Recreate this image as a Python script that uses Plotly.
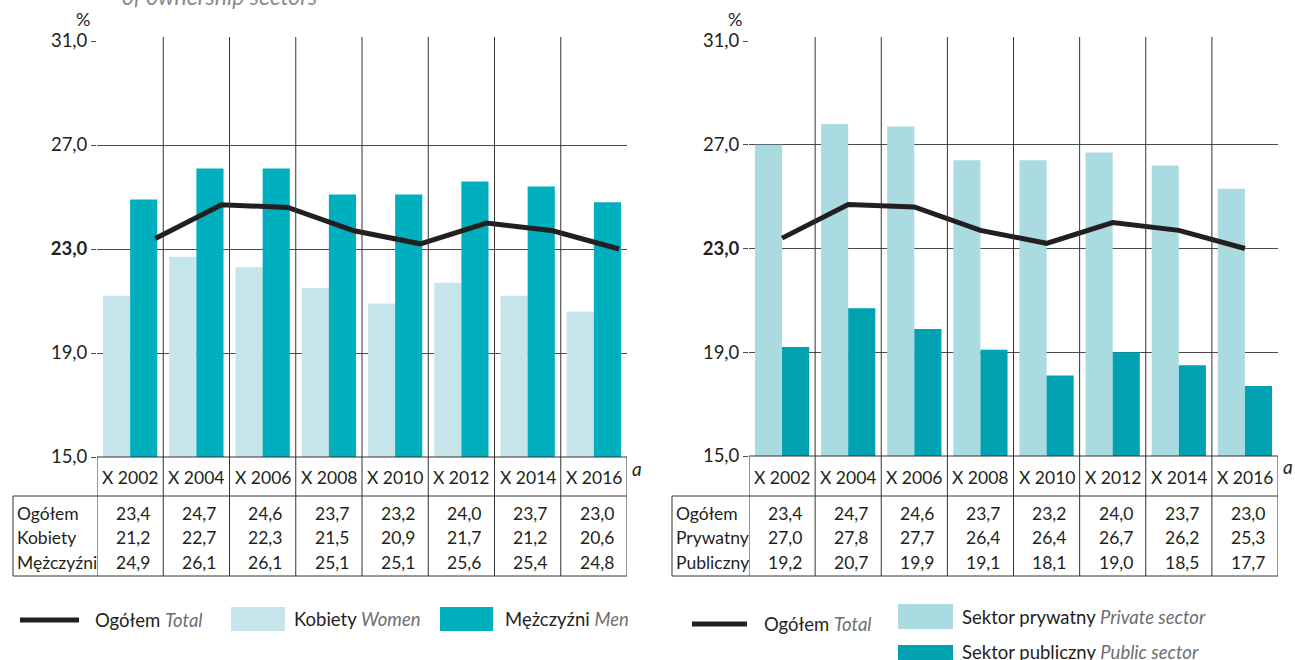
import plotly.graph_objects as go

W, H = 1295, 660
FONT = "Lato"
INK = "#231f20"
GREY = "#6d6e71"

# ---- data -------------------------------------------------------------
periods = ["X 2002", "X 2004", "X 2006", "X 2008", "X 2010", "X 2012", "X 2014", "X 2016"]
total = [23.4, 24.7, 24.6, 23.7, 23.2, 24.0, 23.7, 23.0]
women = [21.2, 22.7, 22.3, 21.5, 20.9, 21.7, 21.2, 20.6]
men = [24.9, 26.1, 26.1, 25.1, 25.1, 25.6, 25.4, 24.8]
private_sector = [27.0, 27.8, 27.7, 26.4, 26.4, 26.7, 26.2, 25.3]
public_sector = [19.2, 20.7, 19.9, 19.1, 18.1, 19.0, 18.5, 17.7]
y_ticks = [15.0, 19.0, 23.0, 27.0, 31.0]

left_rows = [("Ogółem", total), ("Kobiety", women), ("Mężczyźni", men)]
right_rows = [("Ogółem", total), ("Prywatny", private_sector), ("Publiczny", public_sector)]

# ---- helpers ----------------------------------------------------------
def px(x):
    return x / W


def py(y):
    return 1 - y / H


def pl(v):
    return f"{v:.1f}".replace(".", ",")


idx = list(range(len(periods)))
tick_text = [f"<b>{pl(v)}</b>" if v == 23.0 else pl(v) for v in y_ticks]

C_WOMEN = "#c5e5ea"
C_MEN = "#00afbe"
C_PRIV = "#aadbe1"
C_PUB = "#00a1b0"

fig = go.Figure()

BW = 0.41
# left panel: women / men bars and total line
fig.add_trace(go.Bar(x=idx, y=women, width=BW, offset=-BW, marker=dict(color=C_WOMEN, line_width=0),
                     xaxis="x", yaxis="y", showlegend=False))
fig.add_trace(go.Bar(x=idx, y=men, width=BW, offset=0, marker=dict(color=C_MEN, line_width=0),
                     xaxis="x", yaxis="y", showlegend=False))
fig.add_trace(go.Scatter(x=[i + 0.38 for i in idx], y=total, mode="lines",
                         line=dict(color=INK, width=5), xaxis="x", yaxis="y", showlegend=False))

# right panel: private / public bars and total line
fig.add_trace(go.Bar(x=idx, y=private_sector, width=BW, offset=-BW, marker=dict(color=C_PRIV, line_width=0),
                     xaxis="x2", yaxis="y2", showlegend=False))
fig.add_trace(go.Bar(x=idx, y=public_sector, width=BW, offset=0, marker=dict(color=C_PUB, line_width=0),
                     xaxis="x2", yaxis="y2", showlegend=False))
fig.add_trace(go.Scatter(x=idx, y=total, mode="lines",
                         line=dict(color=INK, width=5), xaxis="x2", yaxis="y2", showlegend=False))

xa = dict(range=[-0.5, 7.5], showgrid=False, zeroline=False, showticklabels=False,
          showline=False, ticks="", fixedrange=True, automargin=False)
ya = dict(range=[15, 31], tickvals=y_ticks, ticktext=tick_text, showgrid=True,
          gridcolor="#4a4a4a", gridwidth=1, zeroline=False, showline=False,
          ticks="outside", ticklen=5, tickcolor="#4a4a4a",
          tickfont=dict(family=FONT, size=18.5, color=INK), fixedrange=True, automargin=False)

panels = {
    "left": dict(x0=97, x1=627, ytop=41, ybot=457, tab_left=13, xref="x"),
    "right": dict(x0=749, x1=1278, ytop=41, ybot=456, tab_left=672, xref="x2"),
}

fig.update_layout(
    template="none",
    autosize=False,
    width=W, height=H,
    margin=dict(l=0, r=0, t=0, b=0, pad=0, autoexpand=False),
    paper_bgcolor="white", plot_bgcolor="rgba(0,0,0,0)",
    barmode="overlay",
    xaxis=dict(domain=[px(97), px(627)], anchor="y", **xa),
    yaxis=dict(domain=[py(457), py(41)], anchor="x", **ya),
    xaxis2=dict(domain=[px(749), px(1278)], anchor="y2", **xa),
    yaxis2=dict(domain=[py(456), py(41)], anchor="x2", **ya),
    font=dict(family=FONT, color=INK),
)

shapes = []
ann = []

SEP = "#333333"
HEADER_BOTTOM = 496
TABLE_BOTTOM = 576

for name, rows in (("left", left_rows), ("right", right_rows)):
    p = panels[name]
    xr = p["xref"]
    # column separators through plot and table
    for i in idx[:-1]:
        shapes.append(dict(type="line", xref=xr, yref="paper", x0=i + 0.5, x1=i + 0.5,
                           y0=py(TABLE_BOTTOM), y1=py(p["ytop"] - 4), line=dict(color=SEP, width=1)))
    # outer edges of header + data
    for xv in (-0.5, 7.5):
        shapes.append(dict(type="line", xref=xr, yref="paper", x0=xv, x1=xv,
                           y0=py(TABLE_BOTTOM), y1=py(p["ybot"]), line=dict(color=SEP, width=1)))
    # header top
    shapes.append(dict(type="line", xref="paper", yref="paper", x0=px(p["x0"]), x1=px(p["x1"]),
                       y0=py(p["ybot"]), y1=py(p["ybot"]), line=dict(color=SEP, width=1)))
    # data box
    for yv in (HEADER_BOTTOM, TABLE_BOTTOM):
        shapes.append(dict(type="line", xref="paper", yref="paper", x0=px(p["tab_left"]), x1=px(p["x1"]),
                           y0=py(yv), y1=py(yv), line=dict(color=SEP, width=1)))
    shapes.append(dict(type="line", xref="paper", yref="paper", x0=px(p["tab_left"]), x1=px(p["tab_left"]),
                       y0=py(TABLE_BOTTOM), y1=py(HEADER_BOTTOM), line=dict(color=SEP, width=1)))

    # header labels
    for i, lab in zip(idx, periods):
        ann.append(dict(x=i, y=py(477), xref=xr, yref="paper", text=lab, showarrow=False,
                        xanchor="center", yanchor="middle", font=dict(family=FONT, size=17.5, color=INK)))
    # data rows
    for r, (row_name, vals) in enumerate(rows):
        yy = py(513 + 24.5 * r)
        ann.append(dict(x=px(p["tab_left"] + 2), y=yy, xref="paper", yref="paper", text=row_name,
                        showarrow=False, xanchor="left", yanchor="middle",
                        font=dict(family=FONT, size=17.5, color=INK)))
        for i, v in zip(idx, vals):
            ann.append(dict(x=i + 0.33, y=yy, xref=xr, yref="paper", text=pl(v), showarrow=False,
                            xanchor="right", yanchor="middle", font=dict(family=FONT, size=17.5, color=INK)))
    # "%" unit label
    ann.append(dict(x=px(p["x0"] - 14), y=py(19), xref="paper", yref="paper", text="%", showarrow=False,
                    xanchor="center", yanchor="middle", font=dict(family=FONT, size=18, color=INK)))

# footnote marks
ann.append(dict(x=px(637), y=py(468), xref="paper", yref="paper", text="<i>a</i>", showarrow=False,
                xanchor="center", yanchor="middle", font=dict(family=FONT, size=19, color=INK)))
ann.append(dict(x=px(1288), y=py(466), xref="paper", yref="paper", text="<i>a</i>", showarrow=False,
                xanchor="center", yanchor="middle", font=dict(family=FONT, size=19, color=INK)))

# title line running off the top edge
ann.append(dict(x=px(120), y=py(-4), xref="paper", yref="paper",
                text="<i>of ownership sectors</i>", showarrow=False, xanchor="left", yanchor="middle",
                font=dict(family=FONT, size=23, color="#8a8b8d")))


def legend_text(pl_txt, en_txt):
    return f"{pl_txt} <span style='color:{GREY}'><i>{en_txt}</i></span>"


LEG = dict(family=FONT, size=18.5, color=INK)

# left legend
shapes.append(dict(type="line", xref="paper", yref="paper", x0=px(20), x1=px(79), y0=py(620), y1=py(620),
                   line=dict(color=INK, width=5)))
ann.append(dict(x=px(93), y=py(620), xref="paper", yref="paper", text=legend_text("Ogółem", "Total"),
                showarrow=False, xanchor="left", yanchor="middle", font=LEG))
shapes.append(dict(type="rect", xref="paper", yref="paper", x0=px(231), x1=px(285), y0=py(631), y1=py(607),
                   fillcolor=C_WOMEN, line_width=0))
ann.append(dict(x=px(292), y=py(619), xref="paper", yref="paper", text=legend_text("Kobiety", "Women"),
                showarrow=False, xanchor="left", yanchor="middle", font=LEG))
shapes.append(dict(type="rect", xref="paper", yref="paper", x0=px(440), x1=px(493), y0=py(631), y1=py(607),
                   fillcolor=C_MEN, line_width=0))
ann.append(dict(x=px(503), y=py(619), xref="paper", yref="paper", text=legend_text("Mężczyźni", "Men"),
                showarrow=False, xanchor="left", yanchor="middle", font=LEG))

# right legend
shapes.append(dict(type="line", xref="paper", yref="paper", x0=px(692), x1=px(747), y0=py(624), y1=py(624),
                   line=dict(color=INK, width=5)))
ann.append(dict(x=px(762), y=py(624), xref="paper", yref="paper", text=legend_text("Ogółem", "Total"),
                showarrow=False, xanchor="left", yanchor="middle", font=LEG))
shapes.append(dict(type="rect", xref="paper", yref="paper", x0=px(898), x1=px(953), y0=py(629), y1=py(604),
                   fillcolor=C_PRIV, line_width=0))
ann.append(dict(x=px(960), y=py(617), xref="paper", yref="paper",
                text=legend_text("Sektor prywatny", "Private sector"),
                showarrow=False, xanchor="left", yanchor="middle", font=LEG))
shapes.append(dict(type="rect", xref="paper", yref="paper", x0=px(898), x1=px(953), y0=py(672), y1=py(645),
                   fillcolor=C_PUB, line_width=0))
ann.append(dict(x=px(960), y=py(652), xref="paper", yref="paper",
                text=legend_text("Sektor publiczny", "Public sector"),
                showarrow=False, xanchor="left", yanchor="middle", font=LEG))

fig.update_layout(shapes=shapes, annotations=ann)
fig.write_html("out.html", config={"displayModeBar": False})
